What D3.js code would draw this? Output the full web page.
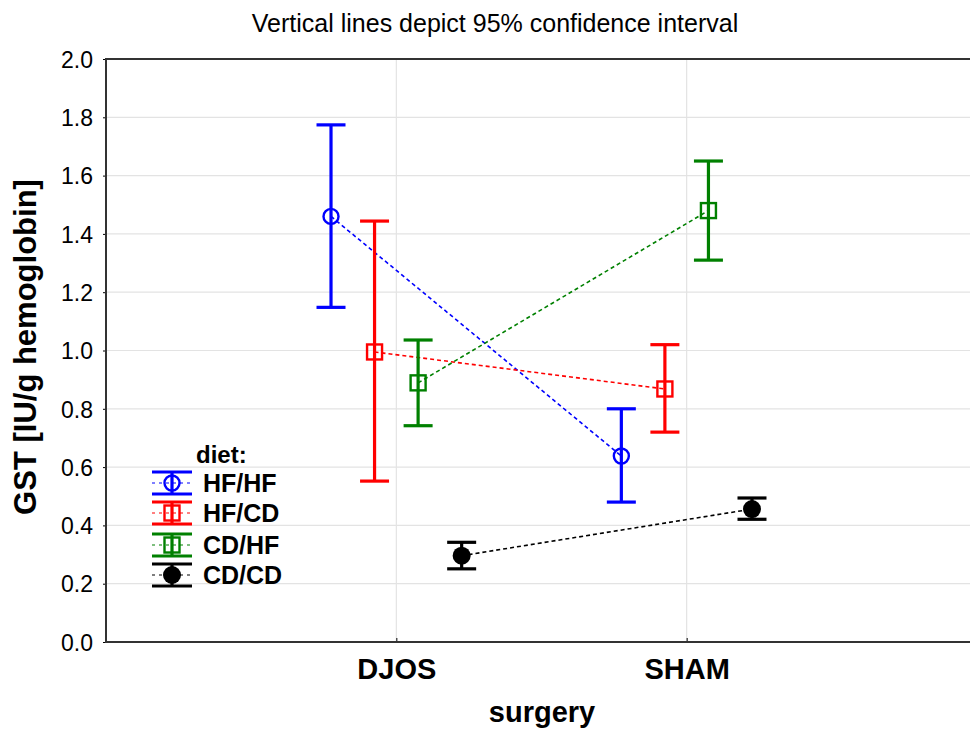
<!DOCTYPE html>
<html>
<head>
<meta charset="utf-8">
<script src="https://cdn.jsdelivr.net/npm/d3@7"></script>
<style>
  body { margin: 0; background: #fff; }
  text { font-family: "Liberation Sans", Arial, sans-serif; }
</style>
</head>
<body>
<div id="chart"></div>
<script>
var surgeries = ["DJOS", "SHAM"];
var diets = ["HF/HF", "HF/CD", "CD/HF", "CD/CD"];
var dietColors = ["#0000ff", "#ff0000", "#008000", "#000000"];
var dietShapes = ["circle", "square", "square", "dot"];
// means and 95% CI per diet, [DJOS, SHAM]
var means = [[1.46, 0.638], [0.995, 0.868], [0.889, 1.48], [0.296, 0.456]];
var ciLow = [[1.148, 0.48], [0.552, 0.72], [0.742, 1.31], [0.251, 0.421]];
var ciHigh = [[1.774, 0.80], [1.444, 1.02], [1.036, 1.65], [0.342, 0.494]];
var yTicks = [0, 0.2, 0.4, 0.6, 0.8, 1.0, 1.2, 1.4, 1.6, 1.8, 2.0];
var dietOffsets = [-0.225, -0.075, 0.075, 0.225];

var width = 970, height = 731;
var plotLeft = 106, plotTop = 59, plotRight = 977, plotBottom = 642;

var svg = d3.select("#chart").append("svg")
    .attr("width", width)
    .attr("height", height);

var x = d3.scaleLinear().domain([0, 3]).range([plotLeft, plotRight]);
var y = d3.scaleLinear().domain([0, 2]).range([plotBottom, plotTop]);

// grid
svg.append("g").selectAll("line").data(yTicks.slice(1)).join("line")
    .attr("x1", plotLeft).attr("x2", width)
    .attr("y1", function (d) { return y(d); }).attr("y2", function (d) { return y(d); })
    .attr("stroke", "#e3e3e3").attr("stroke-width", 1.2);
svg.append("g").selectAll("line").data(surgeries).join("line")
    .attr("x1", function (d, i) { return x(i + 1); }).attr("x2", function (d, i) { return x(i + 1); })
    .attr("y1", plotTop).attr("y2", plotBottom)
    .attr("stroke", "#e3e3e3").attr("stroke-width", 1.2);

// axes
var yAxis = d3.axisLeft(y).tickValues(yTicks).tickFormat(d3.format(".1f")).tickSize(3).tickPadding(10);
var gy = svg.append("g").attr("transform", "translate(" + plotLeft + ",0)").call(yAxis);
gy.select(".domain").remove();
gy.selectAll("text").attr("font-size", 23).attr("fill", "#000").attr("dy", "0.36em");

var xAxis = d3.axisBottom(x).tickValues([1, 2]).tickFormat(function (d) { return surgeries[d - 1]; }).tickSize(-4).tickPadding(0);
var gx = svg.append("g").attr("transform", "translate(0," + plotBottom + ")").call(xAxis);
gx.select(".domain").remove();
gx.selectAll("text").attr("font-size", 29).attr("font-weight", "bold").attr("fill", "#000")
    .attr("y", 37).attr("dy", null);

// frame
svg.append("path")
    .attr("d", "M" + width + "," + plotTop + "H" + plotLeft + "V" + plotBottom + "H" + width)
    .attr("fill", "none").attr("stroke", "#333").attr("stroke-width", 2);

// connecting dashed lines
diets.forEach(function (dt, k) {
    var pts = surgeries.map(function (s, i) { return [x(i + 1 + dietOffsets[k]), y(means[k][i])]; });
    svg.append("path")
        .attr("d", d3.line()(pts))
        .attr("fill", "none")
        .attr("stroke", dietColors[k])
        .attr("stroke-width", 1.6)
        .attr("stroke-dasharray", "4,3");
});

function drawMarker(g, shape, color, cx, cy) {
    if (shape === "circle") {
        g.append("circle").attr("cx", cx).attr("cy", cy).attr("r", 7.5)
            .attr("fill", "none").attr("stroke", color).attr("stroke-width", 2.4);
    } else if (shape === "square") {
        var s = 7.5;
        g.append("rect").attr("x", cx - s).attr("y", cy - s).attr("width", 2 * s).attr("height", 2 * s)
            .attr("fill", "none").attr("stroke", color).attr("stroke-width", 2.4);
    } else {
        g.append("circle").attr("cx", cx).attr("cy", cy).attr("r", 9).attr("fill", color);
    }
}

// error bars and markers
diets.forEach(function (dt, k) {
    surgeries.forEach(function (s, i) {
        var cx = x(i + 1 + dietOffsets[k]);
        var g = svg.append("g").attr("stroke", dietColors[k]).attr("stroke-width", 3.2);
        g.append("line").attr("x1", cx).attr("x2", cx).attr("y1", y(ciLow[k][i])).attr("y2", y(ciHigh[k][i]));
        [ciLow[k][i], ciHigh[k][i]].forEach(function (v) {
            g.append("line").attr("x1", cx - 14.5).attr("x2", cx + 14.5).attr("y1", y(v)).attr("y2", y(v));
        });
        drawMarker(svg, dietShapes[k], dietColors[k], cx, y(means[k][i]));
    });
});

// legend
var legend = svg.append("g").attr("transform", "translate(172,0)");
legend.append("text").attr("x", 24).attr("y", 463)
    .attr("font-size", 24).attr("font-weight", "bold").text("diet:");
var legendY = [483, 513, 545, 575];
diets.forEach(function (dt, k) {
    var ly = legendY[k];
    var g = legend.append("g");
    g.append("line").attr("x1", -20).attr("x2", 20).attr("y1", ly).attr("y2", ly)
        .attr("stroke", dietColors[k]).attr("stroke-width", 1.2).attr("stroke-dasharray", "3,4");
    g.append("line").attr("x1", 0).attr("x2", 0).attr("y1", ly - 11).attr("y2", ly + 11)
        .attr("stroke", dietColors[k]).attr("stroke-width", 3.2);
    [-11, 11].forEach(function (o) {
        g.append("line").attr("x1", -20).attr("x2", 20).attr("y1", ly + o).attr("y2", ly + o)
            .attr("stroke", dietColors[k]).attr("stroke-width", 3.2);
    });
    drawMarker(g, dietShapes[k], dietColors[k], 0, ly);
    g.append("text").attr("x", 31).attr("y", ly).attr("dy", "0.36em")
        .attr("font-size", 25).attr("font-weight", "bold").text(dt);
});

// titles
svg.append("text").attr("x", 495).attr("y", 32).attr("text-anchor", "middle")
    .attr("font-size", 25).text("Vertical lines depict 95% confidence interval");
svg.append("text").attr("x", 542).attr("y", 722).attr("text-anchor", "middle")
    .attr("font-size", 29).attr("font-weight", "bold").text("surgery");
svg.append("text").attr("transform", "translate(36,347) rotate(-90)").attr("text-anchor", "middle")
    .attr("font-size", 31).attr("font-weight", "bold").text("GST [IU/g hemoglobin]");
</script>
</body>
</html>
